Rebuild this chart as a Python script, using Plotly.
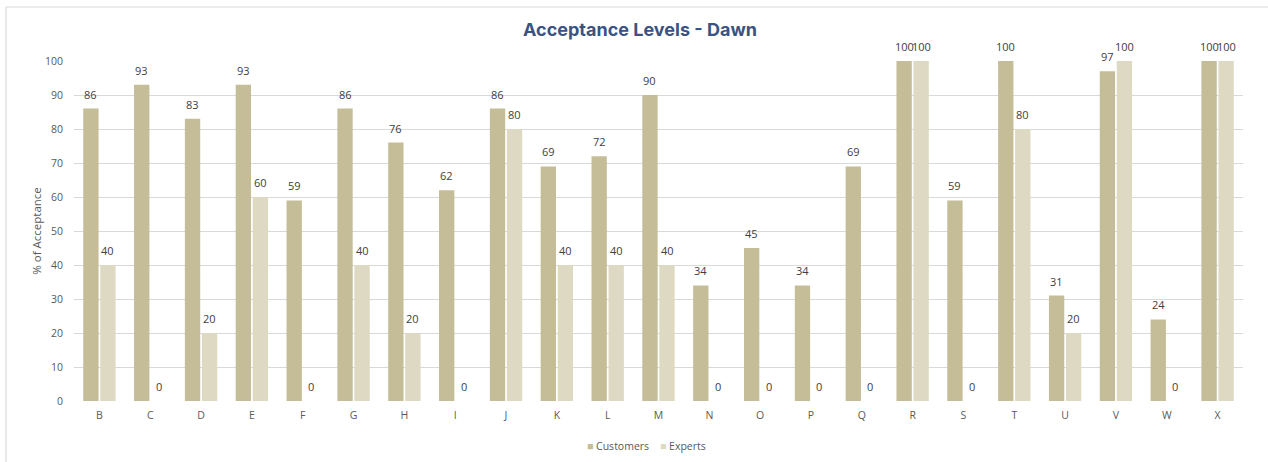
import plotly.graph_objects as go

# Acceptance percentages per panel member group
categories = ["B", "C", "D", "E", "F", "G", "H", "I", "J", "K", "L", "M",
              "N", "O", "P", "Q", "R", "S", "T", "U", "V", "W", "X"]
customers = [86, 93, 83, 93, 59, 86, 76, 62, 86, 69, 72, 90,
             34, 45, 34, 69, 100, 59, 100, 31, 97, 24, 100]
experts = [40, 0, 20, 60, 0, 40, 20, 0, 80, 40, 40, 40,
           0, 0, 0, 0, 100, 0, 80, 20, 100, 0, 100]
y_ticks = list(range(0, 101, 10))

W, H = 1268, 462
ML, MR, MT, MB = 74, 25, 61, 61
plot_w = W - ML - MR
plot_h = H - MT - MB
BARGAP, GROUPGAP = 0.33, 0.1

CUST_COLOR, EXP_COLOR = "#C4BD97", "#DDD9C3"
FONT = "Open Sans, Liberation Sans, sans-serif"
label_font = dict(family=FONT, size=11, color="#404040")
tick_font = dict(family=FONT, size=10.5, color="#595959")

fig = go.Figure()
fig.add_trace(go.Bar(name="Customers", x=categories, y=customers,
                     marker=dict(color=CUST_COLOR, line=dict(width=0))))
fig.add_trace(go.Bar(name="Experts", x=categories, y=experts,
                     marker=dict(color=EXP_COLOR, line=dict(width=0))))

# Value labels sit a little above each bar; each bar is offset half a
# bar-width from its category centre in the grouped layout.
slot = plot_w / len(categories)
half_bar = slot * (1 - BARGAP) / 4
for series, dx in ((customers, -half_bar), (experts, half_bar)):
    for cat, v in zip(categories, series):
        fig.add_annotation(x=cat, y=v, text=str(v), showarrow=False,
                           xshift=dx, yshift=5, yanchor="bottom",
                           font=label_font)


def px_x(px):
    return (px - ML) / plot_w


def px_y(py):
    return (H - MB - py) / plot_h


# Light frame around the chart area (top and left edges)
frame = dict(type="line", xref="paper", yref="paper",
             line=dict(color="#D9D9D9", width=1.2))
fig.add_shape(**frame, x0=px_x(6), x1=px_x(W + 5), y0=px_y(7), y1=px_y(7))
fig.add_shape(**frame, x0=px_x(6), x1=px_x(6), y0=px_y(7), y1=px_y(H + 5))

# Compact legend row below the axis
legend_text = (f'<span style="color:{CUST_COLOR}">■</span> Customers'
               f'&nbsp;&nbsp;&nbsp;&nbsp;<span style="color:{EXP_COLOR}">■</span> Experts')
fig.add_annotation(x=px_x(646), y=px_y(446), xref="paper", yref="paper",
                   text=legend_text, showarrow=False, xanchor="center",
                   yanchor="middle", font=dict(family=FONT, size=10.5, color="#595959"))

fig.update_layout(
    width=W, height=H,
    margin=dict(l=ML, r=MR, t=MT, b=MB, autoexpand=False),
    paper_bgcolor="white", plot_bgcolor="white",
    barmode="group", bargap=BARGAP, bargroupgap=GROUPGAP,
    showlegend=False,
    title=dict(
        text="<b>Acceptance Levels - Dawn</b>",
        font=dict(family="Inter, Roboto, sans-serif", size=18, color="#3A5382", weight=900),
        x=640 / W, xref="container", xanchor="center",
        y=1 - 30 / H, yref="container", yanchor="middle",
    ),
    xaxis=dict(
        showgrid=False, showline=False, ticks="",
        tickfont=tick_font, ticklabelstandoff=6, automargin=False,
    ),
    yaxis=dict(
        range=[0, 100], tickvals=y_ticks,
        showgrid=True, gridcolor="#D9D9D9", gridwidth=1,
        zeroline=False, showline=False, ticks="",
        tickfont=tick_font, ticklabelstandoff=10, automargin=False,
        title=dict(text="% of Acceptance",
                   font=dict(family=FONT, size=11.5, color="#595959"),
                   standoff=0),
    ),
)

fig.write_html("out.html")
